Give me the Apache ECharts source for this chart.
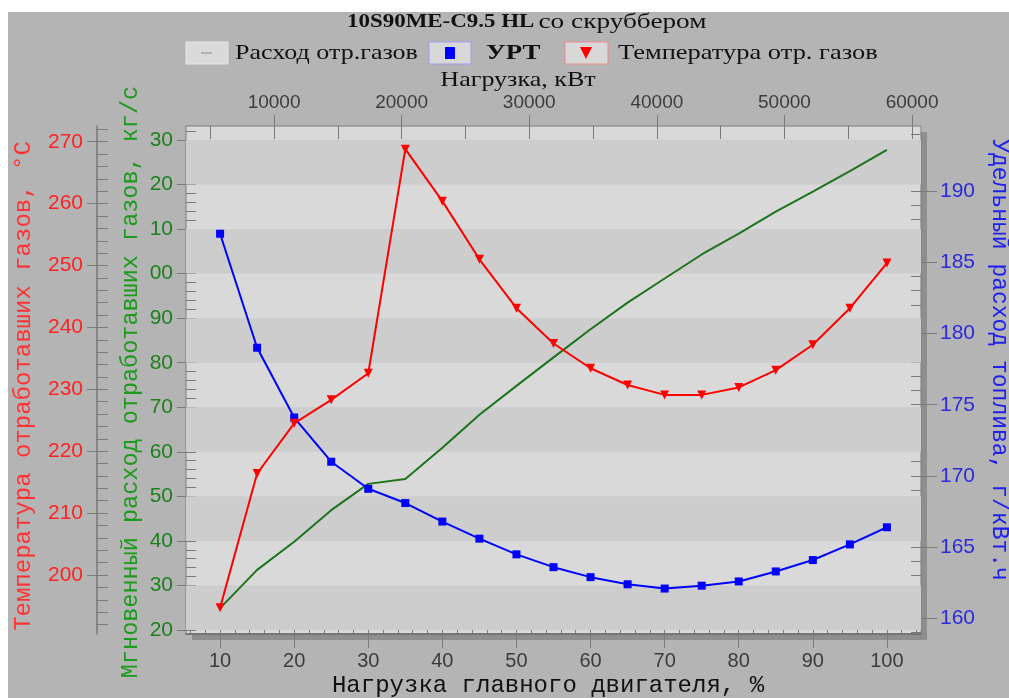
<!DOCTYPE html>
<html>
<head>
<meta charset="utf-8">
<script src="https://cdn.jsdelivr.net/npm/echarts@6/dist/echarts.min.js"></script>
<style>
html,body{margin:0;padding:0;background:#fff;}
#chart{width:1009px;height:698px;}
</style>
</head>
<body>
<div id="chart"></div>
<script>
// ---- data ----
const loadPct = [10,15,20,25,30,35,40,45,50,55,60,65,70,75,80,85,90,95,100];
const gasFlow = [24.9,33.5,39.8,46.9,52.8,53.9,60.9,68.3,74.8,81.2,87.5,93.5,98.9,104.3,109.0,113.9,118.4,123.0,127.8];
const sfoc = [187.0,179.0,174.1,171.0,169.1,168.1,166.8,165.6,164.5,163.6,162.9,162.4,162.1,162.3,162.6,163.3,164.1,165.2,166.4];
const exhTemp = [194.7,216.4,224.5,228.3,232.6,268.8,260.4,251.0,243.1,237.4,233.4,230.7,229.1,229.1,230.3,233.1,237.2,243.1,250.4];

// ---- tick labels ----
const xTicks = [10,20,30,40,50,60,70,80,90,100];
const kwTicks = [10000,20000,30000,40000,50000,60000];
const tempTicks = [200,210,220,230,240,250,260,270];
const flowTicks = [20,30,40,50,60,70,80,90,100,110,120,130];
const sfocTicks = [160,165,170,175,180,185,190];
const darkBands = [[20,30],[40,50],[60,70],[80,90],[100,110],[120,130]];

// axis ranges
const xRange = [5.4, 104.6];
const kwRange = [3100, 60700];
const flowRange = [19.1, 133.14];
const tempRange = [190.47, 272.54];
const sfocRange = [158.91, 194.56];

function steps(a, b, s){ const r=[]; for(let v=a; v<=b+1e-9; v+=s) r.push(Math.round(v*100)/100); return r; }
const xMinor = steps(6, 104, 2);
const kwMinor = steps(5000, 60000, 5000);
const flowMinor = steps(20, 132, 2);
const tempMinor = steps(192, 272, 2);
const sfocMinor = steps(159, 194, 1);

const GRID = {left:186, top:126, width:735, height:508};
const tickCol = '#7a7a7a';
const sans = 'Liberation Sans';
const serif = 'Liberation Serif';
const mono = 'Liberation Mono';
const SX = 1.24; // horizontal stretch of the serif texts

const chart = echarts.init(document.getElementById('chart'), null, {renderer:'canvas'});

function hiddenAxisBase(){ return {type:'value', splitLine:{show:false}, axisLabel:{show:false}, axisLine:{show:false}, axisTick:{show:false}}; }

const option = {
  backgroundColor:'#ffffff',
  animation:false,
  grid:{left:GRID.left, top:GRID.top, width:GRID.width, height:GRID.height, show:true,
        backgroundColor:'#d9d9d9', borderColor:'#7c7c7c', borderWidth:1},
  xAxis:[
    Object.assign(hiddenAxisBase(), {min:xRange[0], max:xRange[1], position:'bottom',
      axisLine:{show:true, onZero:false, lineStyle:{color:'#6a6a6a', width:1.5}},
      axisTick:{show:true, inside:true, length:11, customValues:xMinor, lineStyle:{color:tickCol}}}),
    Object.assign(hiddenAxisBase(), {min:xRange[0], max:xRange[1], position:'bottom',
      axisTick:{show:true, inside:false, length:14, customValues:xTicks, lineStyle:{color:tickCol}},
      axisLabel:{show:true, customValues:xTicks, margin:17, color:'#3c3c3c', fontFamily:sans, fontSize:20}}),
    Object.assign(hiddenAxisBase(), {min:kwRange[0], max:kwRange[1], position:'top',
      axisTick:{show:true, inside:true, length:13, customValues:kwMinor, lineStyle:{color:tickCol}}}),
    Object.assign(hiddenAxisBase(), {min:kwRange[0], max:kwRange[1], position:'top',
      axisTick:{show:true, inside:false, length:11, customValues:kwTicks, lineStyle:{color:tickCol}},
      axisLabel:{show:true, customValues:kwTicks, margin:14, color:'#3c3c3c', fontFamily:sans, fontSize:19,
        formatter:v=>String(v)}})
  ],
  yAxis:[
    // 0 green minor
    Object.assign(hiddenAxisBase(), {min:flowRange[0], max:flowRange[1], position:'left', offset:0,
      axisTick:{show:true, inside:true, length:10, customValues:flowMinor, lineStyle:{color:tickCol}}}),
    // 1 green major + labels
    Object.assign(hiddenAxisBase(), {min:flowRange[0], max:flowRange[1], position:'left', offset:0,
      axisTick:{show:true, inside:false, length:9, customValues:flowTicks, lineStyle:{color:tickCol}},
      axisLabel:{show:true, customValues:flowTicks, margin:13, color:'#1d7f1d', fontFamily:sans, fontSize:21,
        formatter:v=> v>=100 ? String(v).slice(-2) : String(v)}}),
    // 2 red minor + line
    Object.assign(hiddenAxisBase(), {min:tempRange[0], max:tempRange[1], position:'left', offset:89,
      axisLine:{show:true, lineStyle:{color:'#777', width:1.5}},
      axisTick:{show:true, inside:true, length:11, customValues:tempMinor, lineStyle:{color:tickCol}}}),
    // 3 red major + labels
    Object.assign(hiddenAxisBase(), {min:tempRange[0], max:tempRange[1], position:'left', offset:89,
      axisTick:{show:true, inside:false, length:10, customValues:tempTicks, lineStyle:{color:tickCol}},
      axisLabel:{show:true, customValues:tempTicks, margin:14, color:'#ff2222', fontFamily:sans, fontSize:21}}),
    // 4 blue minor
    Object.assign(hiddenAxisBase(), {min:sfocRange[0], max:sfocRange[1], position:'right', offset:0,
      axisTick:{show:true, inside:true, length:10, customValues:sfocMinor, lineStyle:{color:tickCol}}}),
    // 5 blue major + labels
    Object.assign(hiddenAxisBase(), {min:sfocRange[0], max:sfocRange[1], position:'right', offset:0,
      axisTick:{show:true, inside:false, length:16, customValues:sfocTicks, lineStyle:{color:tickCol}},
      axisLabel:{show:true, customValues:sfocTicks, margin:19, color:'#2b2bdc', fontFamily:sans, fontSize:21}})
  ],
  series:[
    {name:'Расход отр.газов', type:'line', xAxisIndex:0, yAxisIndex:0,
     data: loadPct.map((x,i)=>[x, gasFlow[i]]), showSymbol:false, symbol:'none',
     lineStyle:{color:'#1c741c', width:2}, itemStyle:{color:'#1c741c'}, z:3,
     markArea:{silent:true, itemStyle:{color:'#cdcdcd'},
       data: darkBands.map(b=>[{yAxis:b[0]},{yAxis:b[1]}])}},
    {name:'УРТ', type:'line', xAxisIndex:0, yAxisIndex:4,
     data: loadPct.map((x,i)=>[x, sfoc[i]]), symbol:'rect', symbolSize:8,
     lineStyle:{color:'#0000ff', width:2}, itemStyle:{color:'#0000ff'}, z:4},
    {name:'Температура отр. газов', type:'line', xAxisIndex:0, yAxisIndex:2,
     data: loadPct.map((x,i)=>[x, exhTemp[i]]), symbol:'triangle', symbolRotate:180, symbolSize:9,
     lineStyle:{color:'#ff0000', width:2}, itemStyle:{color:'#ff0000'}, z:5}
  ],
  graphic:[
    {type:'rect', z:-30, shape:{x:8, y:12, width:1001, height:686}, style:{fill:'#b4b4b4'}},
    {type:'rect', z:-20, shape:{x:GRID.left+6, y:GRID.top+6, width:GRID.width, height:GRID.height}, style:{fill:'#8e8e8e'}},
    // chart title
    {type:'text', x:347, y:22, scaleX:SX, style:{text:'{b|10S90ME-C9.5 HL} {n|со скруббером}', verticalAlign:'middle',
      rich:{b:{fontFamily:serif, fontWeight:'bold', fontSize:18.5, fill:'#111'}, n:{fontFamily:serif, fontSize:22, fill:'#111'}}}},
    // legend
    {type:'rect', shape:{x:186, y:42, width:42, height:22}, style:{fill:'#dadada', stroke:'#e6e6e6', lineWidth:1}},
    {type:'line', shape:{x1:201, y1:53, x2:212, y2:53}, style:{stroke:'#8a8a8a', lineWidth:1}},
    {type:'text', x:235, y:53, scaleX:SX, style:{text:'Расход отр.газов', fontFamily:serif, fontSize:21, fill:'#111', verticalAlign:'middle'}},
    {type:'rect', shape:{x:429, y:42, width:42, height:22}, style:{fill:'#d8d8d8', stroke:'#9c9cf0', lineWidth:1}},
    {type:'rect', shape:{x:445, y:47, width:10, height:12}, style:{fill:'#0000ff'}},
    {type:'text', x:486, y:54, scaleX:1.28, style:{text:'УРТ', fontFamily:serif, fontWeight:'bold', fontSize:21, fill:'#111', verticalAlign:'middle'}},
    {type:'rect', shape:{x:565, y:42, width:43, height:22}, style:{fill:'#d8d8d8', stroke:'#f08a8a', lineWidth:1}},
    {type:'polygon', shape:{points:[[580,47],[592,47],[586,59]]}, style:{fill:'#ff0000'}},
    {type:'text', x:618, y:53, scaleX:1.26, style:{text:'Температура отр. газов', fontFamily:serif, fontSize:21, fill:'#111', verticalAlign:'middle'}},
    // axis titles
    {type:'text', x:518, y:80, scaleX:SX, style:{text:'Нагрузка, кВт', fontFamily:serif, fontSize:21, fill:'#111', align:'center', verticalAlign:'middle'}},
    {type:'text', x:548, y:686, style:{text:'Нагрузка главного двигателя, %', fontFamily:mono, fontSize:24, fill:'#111', align:'center', verticalAlign:'middle'}},
    {type:'text', x:24, y:386, rotation:Math.PI/2, style:{text:'Температура отработавших газов, °С', fontFamily:mono, fontSize:24, fill:'#ff3333', align:'center', verticalAlign:'middle'}},
    {type:'text', x:131, y:382, rotation:Math.PI/2, style:{text:'Мгновенный расход отработавших газов, кг/с', fontFamily:mono, fontSize:23.5, fill:'#1d9a1d', align:'center', verticalAlign:'middle'}},
    {type:'text', x:999, y:360, rotation:-Math.PI/2, style:{text:'Удельный расход топлива, г/кВт.ч', fontFamily:mono, fontSize:23, fill:'#2020ee', align:'center', verticalAlign:'middle'}}
  ]
};
chart.setOption(option);
</script>
</body>
</html>
